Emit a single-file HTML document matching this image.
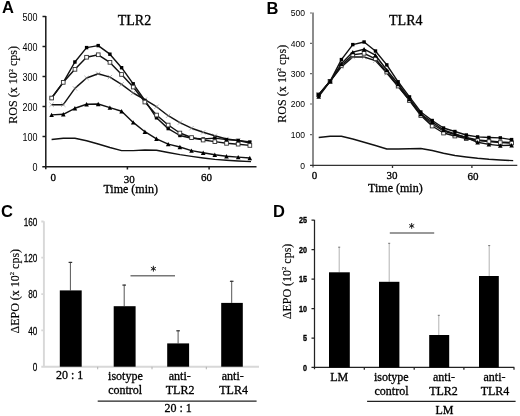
<!DOCTYPE html>
<html><head><meta charset="utf-8"><title>Figure</title>
<style>html,body{margin:0;padding:0;background:#fff;width:520px;height:416px;overflow:hidden}svg{display:block;filter:grayscale(1)}</style>
</head><body>
<svg width="520" height="416" viewBox="0 0 520 416">
<rect width="520" height="416" fill="#fff"/>
<g stroke="#1a1a1a" stroke-width="1.5" fill="none">
<path d="M45.8,16.0V169.3M42.5,16.5H45.8M42.5,46.5H45.8M42.5,76.5H45.8M42.5,106.5H45.8M42.5,136.5H45.8M42.3,166.7H256.5M127.4,166.7V169.5M209.1,166.7V169.5"/>
</g>
<text transform="translate(37.6,20.9) scale(0.9,1)" font-family='"Liberation Sans", sans-serif' font-size="10" text-anchor="end" font-weight="normal">500</text>
<text transform="translate(37.6,50.9) scale(0.9,1)" font-family='"Liberation Sans", sans-serif' font-size="10" text-anchor="end" font-weight="normal">400</text>
<text transform="translate(37.6,80.9) scale(0.9,1)" font-family='"Liberation Sans", sans-serif' font-size="10" text-anchor="end" font-weight="normal">300</text>
<text transform="translate(37.6,110.9) scale(0.9,1)" font-family='"Liberation Sans", sans-serif' font-size="10" text-anchor="end" font-weight="normal">200</text>
<text transform="translate(37.6,140.9) scale(0.9,1)" font-family='"Liberation Sans", sans-serif' font-size="10" text-anchor="end" font-weight="normal">100</text>
<text transform="translate(37.6,170.9) scale(0.9,1)" font-family='"Liberation Sans", sans-serif' font-size="10" text-anchor="end" font-weight="normal">0</text>
<text x="53.3" y="180.5" font-family='"Liberation Serif", serif' font-size="11" text-anchor="middle" font-weight="normal"  stroke="#000" stroke-width="0.3">0</text>
<text x="129.3" y="182.5" font-family='"Liberation Serif", serif' font-size="11" text-anchor="middle" font-weight="normal"  stroke="#000" stroke-width="0.3">30</text>
<text x="206.5" y="180.5" font-family='"Liberation Serif", serif' font-size="11" text-anchor="middle" font-weight="normal"  stroke="#000" stroke-width="0.3">60</text>
<text x="130.7" y="193.0" font-family='"Liberation Serif", serif' font-size="12" text-anchor="middle" font-weight="normal"  stroke="#000" stroke-width="0.3">Time (min)</text>
<text x="134.5" y="24.7" font-family='"Liberation Serif", serif' font-size="14" text-anchor="middle" font-weight="normal"  stroke="#000" stroke-width="0.3">TLR2</text>
<text x="2" y="13.2" font-family='"Liberation Sans", sans-serif' font-size="16.5" text-anchor="start" font-weight="bold" >A</text>
<text transform="translate(17.4,84.9) rotate(-90)" stroke="#000" stroke-width="0.15" font-family='"Liberation Serif", serif' font-size="12.1" text-anchor="middle">ROS (x 10<tspan font-size="6" dy="-4.5">2</tspan><tspan dy="4.5"> cps)</tspan></text>
<polyline points="51.6,139.5 63.3,138.3 74.9,138.3 86.6,140.7 98.2,144.0 109.9,147.5 121.6,150.6 133.2,150.6 144.9,150.0 156.5,150.3 168.2,152.5 179.9,154.6 191.5,156.4 203.2,158.0 214.8,159.4 226.5,160.3 238.2,161.0 251.0,161.6" fill="none" stroke="#111" stroke-width="1.45" stroke-linejoin="round"/>
<polyline points="51.6,114.9 63.3,114.3 74.9,108.3 86.6,104.2 98.2,104.0 109.9,107.6 121.6,111.2 133.2,122.4 144.9,131.7 156.5,138.8 168.2,144.1 179.9,147.0 191.5,150.6 203.2,152.8 214.8,154.8 226.5,156.3 238.2,157.1 249.8,158.0" fill="none" stroke="#111" stroke-width="1.45" stroke-linejoin="round"/>
<polygon points="49.3,117.1 53.9,117.1 51.6,112.7" fill="#000"/>
<polygon points="61.0,116.5 65.6,116.5 63.3,112.1" fill="#000"/>
<polygon points="72.6,110.5 77.2,110.5 74.9,106.1" fill="#000"/>
<polygon points="84.3,106.4 88.9,106.4 86.6,102.0" fill="#000"/>
<polygon points="95.9,106.2 100.5,106.2 98.2,101.8" fill="#000"/>
<polygon points="107.6,109.8 112.2,109.8 109.9,105.4" fill="#000"/>
<polygon points="119.3,113.4 123.9,113.4 121.6,109.0" fill="#000"/>
<polygon points="130.9,124.6 135.5,124.6 133.2,120.2" fill="#000"/>
<polygon points="142.6,133.9 147.2,133.9 144.9,129.5" fill="#000"/>
<polygon points="154.2,141.0 158.8,141.0 156.5,136.6" fill="#000"/>
<polygon points="165.9,146.3 170.5,146.3 168.2,141.9" fill="#000"/>
<polygon points="177.6,149.2 182.2,149.2 179.9,144.8" fill="#000"/>
<polygon points="189.2,152.8 193.8,152.8 191.5,148.4" fill="#000"/>
<polygon points="200.9,155.0 205.5,155.0 203.2,150.6" fill="#000"/>
<polygon points="212.5,157.0 217.1,157.0 214.8,152.6" fill="#000"/>
<polygon points="224.2,158.5 228.8,158.5 226.5,154.1" fill="#000"/>
<polygon points="235.9,159.3 240.5,159.3 238.2,154.9" fill="#000"/>
<polygon points="247.5,160.2 252.1,160.2 249.8,155.8" fill="#000"/>
<polyline points="51.6,104.7 63.3,104.7 74.9,88.4 86.6,78.0 98.2,73.7 109.9,77.1 121.6,84.3 133.2,93.0 144.9,99.6 156.5,106.7 168.2,115.7 179.9,122.6 191.5,128.2 203.2,132.3 214.8,135.8 226.5,139.0 238.2,140.5 249.8,143.0" fill="none" stroke="#111" stroke-width="1.45" stroke-linejoin="round"/>
<path d="M49.4,102.5L53.8,106.9M53.8,102.5L49.4,106.9" stroke="#888" stroke-width="0.6"/>
<path d="M61.1,102.5L65.5,106.9M65.5,102.5L61.1,106.9" stroke="#888" stroke-width="0.6"/>
<path d="M72.7,86.2L77.1,90.6M77.1,86.2L72.7,90.6" stroke="#888" stroke-width="0.6"/>
<path d="M84.4,75.8L88.8,80.2M88.8,75.8L84.4,80.2" stroke="#888" stroke-width="0.6"/>
<path d="M96.0,71.5L100.4,75.9M100.4,71.5L96.0,75.9" stroke="#888" stroke-width="0.6"/>
<path d="M107.7,74.9L112.1,79.3M112.1,74.9L107.7,79.3" stroke="#888" stroke-width="0.6"/>
<path d="M119.4,82.1L123.8,86.5M123.8,82.1L119.4,86.5" stroke="#888" stroke-width="0.6"/>
<path d="M131.0,90.8L135.4,95.2M135.4,90.8L131.0,95.2" stroke="#888" stroke-width="0.6"/>
<path d="M142.7,97.4L147.1,101.8M147.1,97.4L142.7,101.8" stroke="#888" stroke-width="0.6"/>
<path d="M154.3,104.5L158.7,108.9M158.7,104.5L154.3,108.9" stroke="#888" stroke-width="0.6"/>
<path d="M166.0,113.5L170.4,117.9M170.4,113.5L166.0,117.9" stroke="#888" stroke-width="0.6"/>
<path d="M177.7,120.4L182.1,124.8M182.1,120.4L177.7,124.8" stroke="#888" stroke-width="0.6"/>
<path d="M189.3,126.0L193.7,130.4M193.7,126.0L189.3,130.4" stroke="#888" stroke-width="0.6"/>
<path d="M201.0,130.1L205.4,134.5M205.4,130.1L201.0,134.5" stroke="#888" stroke-width="0.6"/>
<path d="M212.6,133.6L217.0,138.0M217.0,133.6L212.6,138.0" stroke="#888" stroke-width="0.6"/>
<path d="M224.3,136.8L228.7,141.2M228.7,136.8L224.3,141.2" stroke="#888" stroke-width="0.6"/>
<path d="M236.0,138.3L240.4,142.7M240.4,138.3L236.0,142.7" stroke="#888" stroke-width="0.6"/>
<path d="M247.6,140.8L252.0,145.2M252.0,140.8L247.6,145.2" stroke="#888" stroke-width="0.6"/>
<polyline points="51.6,98.0 63.3,82.4 74.9,62.0 86.6,47.6 98.2,45.6 109.9,54.2 121.6,67.7 133.2,83.8 144.9,100.5 156.5,117.8 168.2,128.6 179.9,135.5 191.5,138.2 203.2,139.0 214.8,138.1 226.5,139.6 238.2,140.4 249.8,142.0" fill="none" stroke="#111" stroke-width="1.45" stroke-linejoin="round"/>
<rect x="49.9" y="96.3" width="3.4" height="3.4" fill="#000"/>
<rect x="61.6" y="80.7" width="3.4" height="3.4" fill="#000"/>
<rect x="73.2" y="60.3" width="3.4" height="3.4" fill="#000"/>
<rect x="84.9" y="45.9" width="3.4" height="3.4" fill="#000"/>
<rect x="96.5" y="43.9" width="3.4" height="3.4" fill="#000"/>
<rect x="108.2" y="52.5" width="3.4" height="3.4" fill="#000"/>
<rect x="119.9" y="66.0" width="3.4" height="3.4" fill="#000"/>
<rect x="131.5" y="82.1" width="3.4" height="3.4" fill="#000"/>
<rect x="143.2" y="98.8" width="3.4" height="3.4" fill="#000"/>
<rect x="154.8" y="116.1" width="3.4" height="3.4" fill="#000"/>
<rect x="166.5" y="126.9" width="3.4" height="3.4" fill="#000"/>
<rect x="178.2" y="133.8" width="3.4" height="3.4" fill="#000"/>
<rect x="189.8" y="136.5" width="3.4" height="3.4" fill="#000"/>
<rect x="201.5" y="137.3" width="3.4" height="3.4" fill="#000"/>
<rect x="213.1" y="136.4" width="3.4" height="3.4" fill="#000"/>
<rect x="224.8" y="137.9" width="3.4" height="3.4" fill="#000"/>
<rect x="236.5" y="138.7" width="3.4" height="3.4" fill="#000"/>
<rect x="248.1" y="140.3" width="3.4" height="3.4" fill="#000"/>
<polyline points="51.6,98.0 63.3,82.3 74.9,69.3 86.6,57.2 98.2,54.8 109.9,62.4 121.6,74.4 133.2,87.0 144.9,102.0 156.5,115.0 168.2,125.0 179.9,133.0 191.5,137.5 203.2,140.0 214.8,141.6 226.5,143.3 238.2,144.2 249.8,145.4" fill="none" stroke="#111" stroke-width="1.45" stroke-linejoin="round"/>
<rect x="49.8" y="96.2" width="3.7" height="3.7" fill="#fff" stroke="#333" stroke-width="0.9"/>
<rect x="61.4" y="80.5" width="3.7" height="3.7" fill="#fff" stroke="#333" stroke-width="0.9"/>
<rect x="73.1" y="67.5" width="3.7" height="3.7" fill="#fff" stroke="#333" stroke-width="0.9"/>
<rect x="84.7" y="55.4" width="3.7" height="3.7" fill="#fff" stroke="#333" stroke-width="0.9"/>
<rect x="96.4" y="52.9" width="3.7" height="3.7" fill="#fff" stroke="#333" stroke-width="0.9"/>
<rect x="108.1" y="60.5" width="3.7" height="3.7" fill="#fff" stroke="#333" stroke-width="0.9"/>
<rect x="119.7" y="72.6" width="3.7" height="3.7" fill="#fff" stroke="#333" stroke-width="0.9"/>
<rect x="131.4" y="85.2" width="3.7" height="3.7" fill="#fff" stroke="#333" stroke-width="0.9"/>
<rect x="143.0" y="100.2" width="3.7" height="3.7" fill="#fff" stroke="#333" stroke-width="0.9"/>
<rect x="154.7" y="113.2" width="3.7" height="3.7" fill="#fff" stroke="#333" stroke-width="0.9"/>
<rect x="166.3" y="123.2" width="3.7" height="3.7" fill="#fff" stroke="#333" stroke-width="0.9"/>
<rect x="178.0" y="131.2" width="3.7" height="3.7" fill="#fff" stroke="#333" stroke-width="0.9"/>
<rect x="189.7" y="135.7" width="3.7" height="3.7" fill="#fff" stroke="#333" stroke-width="0.9"/>
<rect x="201.3" y="138.2" width="3.7" height="3.7" fill="#fff" stroke="#333" stroke-width="0.9"/>
<rect x="213.0" y="139.8" width="3.7" height="3.7" fill="#fff" stroke="#333" stroke-width="0.9"/>
<rect x="224.7" y="141.5" width="3.7" height="3.7" fill="#fff" stroke="#333" stroke-width="0.9"/>
<rect x="236.3" y="142.3" width="3.7" height="3.7" fill="#fff" stroke="#333" stroke-width="0.9"/>
<rect x="248.0" y="143.6" width="3.7" height="3.7" fill="#fff" stroke="#333" stroke-width="0.9"/>
<path d="M313.0,12.6V167.5" stroke="#8c8c8c" stroke-width="2" fill="none"/>
<g stroke="#6a6a6a" stroke-width="1.2" fill="none">
<path d="M310.0,13H312M310.0,43.4H312M310.0,73.7H312M310.0,104H312M310.0,134.7H312"/>
</g>
<g stroke="#333" stroke-width="1.3" fill="none">
<path d="M310.0,165.3H517.3M392.5,165.3V168M471.9,165.3V168"/>
</g>
<text transform="translate(304.9,16.4) scale(0.93,1)" font-family='"Liberation Sans", sans-serif' font-size="9.2" text-anchor="end" font-weight="normal">500</text>
<text transform="translate(304.9,46.8) scale(0.93,1)" font-family='"Liberation Sans", sans-serif' font-size="9.2" text-anchor="end" font-weight="normal">400</text>
<text transform="translate(304.9,77.10000000000001) scale(0.93,1)" font-family='"Liberation Sans", sans-serif' font-size="9.2" text-anchor="end" font-weight="normal">300</text>
<text transform="translate(304.9,107.4) scale(0.93,1)" font-family='"Liberation Sans", sans-serif' font-size="9.2" text-anchor="end" font-weight="normal">200</text>
<text transform="translate(304.9,138.1) scale(0.93,1)" font-family='"Liberation Sans", sans-serif' font-size="9.2" text-anchor="end" font-weight="normal">100</text>
<text transform="translate(304.9,168.6) scale(0.93,1)" font-family='"Liberation Sans", sans-serif' font-size="9.2" text-anchor="end" font-weight="normal">0</text>
<text x="314.5" y="178.6" font-family='"Liberation Serif", serif' font-size="11" text-anchor="middle" font-weight="normal"  stroke="#000" stroke-width="0.3">0</text>
<text x="392.0" y="178.8" font-family='"Liberation Serif", serif' font-size="11" text-anchor="middle" font-weight="normal"  stroke="#000" stroke-width="0.3">30</text>
<text x="473.1" y="180.1" font-family='"Liberation Serif", serif' font-size="11" text-anchor="middle" font-weight="normal"  stroke="#000" stroke-width="0.3">60</text>
<text x="395.4" y="191.7" font-family='"Liberation Serif", serif' font-size="12" text-anchor="middle" font-weight="normal"  stroke="#000" stroke-width="0.3">Time (min)</text>
<text x="405.8" y="25.3" font-family='"Liberation Serif", serif' font-size="14" text-anchor="middle" font-weight="normal"  stroke="#000" stroke-width="0.3">TLR4</text>
<text x="266.5" y="13.5" font-family='"Liberation Sans", sans-serif' font-size="16.5" text-anchor="start" font-weight="bold" >B</text>
<text transform="translate(285.5,83.8) rotate(-90)" stroke="#000" stroke-width="0.15" font-family='"Liberation Serif", serif' font-size="12.1" text-anchor="middle">ROS (x 10<tspan font-size="6" dy="-4.5">2</tspan><tspan dy="4.5"> cps)</tspan></text>
<polyline points="318.7,137.5 330.1,136.2 341.4,136.2 352.8,139.0 364.1,142.2 375.4,145.5 386.8,149.0 398.1,149.0 409.5,148.8 420.8,148.5 432.2,150.5 443.5,153.3 454.9,155.5 466.2,157.0 477.6,158.3 488.9,159.3 500.3,160.0 513.2,160.6" fill="none" stroke="#111" stroke-width="1.45" stroke-linejoin="round"/>
<polyline points="318.7,94.8 330.1,81.3 341.4,66.9 352.8,57.0 364.1,57.0 375.4,60.6 386.8,73.0 398.1,86.5 409.5,100.0 420.8,114.5 432.2,124.0 443.5,131.0 454.9,134.5 466.2,137.5 477.6,140.0 488.9,141.0 500.3,142.0 511.6,142.5" fill="none" stroke="#111" stroke-width="1.45" stroke-linejoin="round"/>
<path d="M316.5,92.6L320.9,97.0M320.9,92.6L316.5,97.0" stroke="#888" stroke-width="0.6"/>
<path d="M327.9,79.1L332.2,83.5M332.2,79.1L327.9,83.5" stroke="#888" stroke-width="0.6"/>
<path d="M339.2,64.7L343.6,69.1M343.6,64.7L339.2,69.1" stroke="#888" stroke-width="0.6"/>
<path d="M350.6,54.8L354.9,59.2M354.9,54.8L350.6,59.2" stroke="#888" stroke-width="0.6"/>
<path d="M361.9,54.8L366.3,59.2M366.3,54.8L361.9,59.2" stroke="#888" stroke-width="0.6"/>
<path d="M373.2,58.4L377.6,62.8M377.6,58.4L373.2,62.8" stroke="#888" stroke-width="0.6"/>
<path d="M384.6,70.8L389.0,75.2M389.0,70.8L384.6,75.2" stroke="#888" stroke-width="0.6"/>
<path d="M395.9,84.3L400.3,88.7M400.3,84.3L395.9,88.7" stroke="#888" stroke-width="0.6"/>
<path d="M407.3,97.8L411.7,102.2M411.7,97.8L407.3,102.2" stroke="#888" stroke-width="0.6"/>
<path d="M418.6,112.3L423.0,116.7M423.0,112.3L418.6,116.7" stroke="#888" stroke-width="0.6"/>
<path d="M430.0,121.8L434.4,126.2M434.4,121.8L430.0,126.2" stroke="#888" stroke-width="0.6"/>
<path d="M441.3,128.8L445.7,133.2M445.7,128.8L441.3,133.2" stroke="#888" stroke-width="0.6"/>
<path d="M452.7,132.3L457.1,136.7M457.1,132.3L452.7,136.7" stroke="#888" stroke-width="0.6"/>
<path d="M464.1,135.3L468.4,139.7M468.4,135.3L464.1,139.7" stroke="#888" stroke-width="0.6"/>
<path d="M475.4,137.8L479.8,142.2M479.8,137.8L475.4,142.2" stroke="#888" stroke-width="0.6"/>
<path d="M486.8,138.8L491.1,143.2M491.1,138.8L486.8,143.2" stroke="#888" stroke-width="0.6"/>
<path d="M498.1,139.8L502.5,144.2M502.5,139.8L498.1,144.2" stroke="#888" stroke-width="0.6"/>
<path d="M509.4,140.3L513.9,144.7M513.9,140.3L509.4,144.7" stroke="#888" stroke-width="0.6"/>
<polyline points="318.7,94.8 330.1,81.3 341.4,65.5 352.8,54.8 364.1,53.4 375.4,58.8 386.8,72.1 398.1,86.0 409.5,100.5 420.8,115.5 432.2,126.0 443.5,133.0 454.9,136.0 466.2,138.5 477.6,140.5 488.9,141.5 500.3,142.5 511.6,143.0" fill="none" stroke="#111" stroke-width="1.45" stroke-linejoin="round"/>
<rect x="316.8" y="93.0" width="3.7" height="3.7" fill="#fff" stroke="#333" stroke-width="0.9"/>
<rect x="328.2" y="79.5" width="3.7" height="3.7" fill="#fff" stroke="#333" stroke-width="0.9"/>
<rect x="339.5" y="63.6" width="3.7" height="3.7" fill="#fff" stroke="#333" stroke-width="0.9"/>
<rect x="350.9" y="52.9" width="3.7" height="3.7" fill="#fff" stroke="#333" stroke-width="0.9"/>
<rect x="362.2" y="51.5" width="3.7" height="3.7" fill="#fff" stroke="#333" stroke-width="0.9"/>
<rect x="373.6" y="56.9" width="3.7" height="3.7" fill="#fff" stroke="#333" stroke-width="0.9"/>
<rect x="384.9" y="70.2" width="3.7" height="3.7" fill="#fff" stroke="#333" stroke-width="0.9"/>
<rect x="396.3" y="84.2" width="3.7" height="3.7" fill="#fff" stroke="#333" stroke-width="0.9"/>
<rect x="407.6" y="98.7" width="3.7" height="3.7" fill="#fff" stroke="#333" stroke-width="0.9"/>
<rect x="419.0" y="113.7" width="3.7" height="3.7" fill="#fff" stroke="#333" stroke-width="0.9"/>
<rect x="430.3" y="124.2" width="3.7" height="3.7" fill="#fff" stroke="#333" stroke-width="0.9"/>
<rect x="441.7" y="131.2" width="3.7" height="3.7" fill="#fff" stroke="#333" stroke-width="0.9"/>
<rect x="453.0" y="134.2" width="3.7" height="3.7" fill="#fff" stroke="#333" stroke-width="0.9"/>
<rect x="464.4" y="136.7" width="3.7" height="3.7" fill="#fff" stroke="#333" stroke-width="0.9"/>
<rect x="475.8" y="138.7" width="3.7" height="3.7" fill="#fff" stroke="#333" stroke-width="0.9"/>
<rect x="487.1" y="139.7" width="3.7" height="3.7" fill="#fff" stroke="#333" stroke-width="0.9"/>
<rect x="498.4" y="140.7" width="3.7" height="3.7" fill="#fff" stroke="#333" stroke-width="0.9"/>
<rect x="509.8" y="141.2" width="3.7" height="3.7" fill="#fff" stroke="#333" stroke-width="0.9"/>
<polyline points="318.7,96.5 330.1,81.3 341.4,63.8 352.8,52.1 364.1,49.2 375.4,55.2 386.8,70.0 398.1,84.0 409.5,99.0 420.8,114.0 432.2,122.0 443.5,130.0 454.9,134.0 466.2,137.5 477.6,142.3 488.9,144.4 500.3,145.6 511.6,145.3" fill="none" stroke="#111" stroke-width="1.45" stroke-linejoin="round"/>
<polygon points="316.4,98.7 321.0,98.7 318.7,94.3" fill="#000"/>
<polygon points="327.8,83.5 332.4,83.5 330.1,79.1" fill="#000"/>
<polygon points="339.1,66.0 343.7,66.0 341.4,61.6" fill="#000"/>
<polygon points="350.4,54.3 355.1,54.3 352.8,49.9" fill="#000"/>
<polygon points="361.8,51.4 366.4,51.4 364.1,47.0" fill="#000"/>
<polygon points="373.1,57.4 377.8,57.4 375.4,53.0" fill="#000"/>
<polygon points="384.5,72.2 389.1,72.2 386.8,67.8" fill="#000"/>
<polygon points="395.8,86.2 400.4,86.2 398.1,81.8" fill="#000"/>
<polygon points="407.2,101.2 411.8,101.2 409.5,96.8" fill="#000"/>
<polygon points="418.5,116.2 423.1,116.2 420.8,111.8" fill="#000"/>
<polygon points="429.9,124.2 434.5,124.2 432.2,119.8" fill="#000"/>
<polygon points="441.2,132.2 445.8,132.2 443.5,127.8" fill="#000"/>
<polygon points="452.6,136.2 457.2,136.2 454.9,131.8" fill="#000"/>
<polygon points="463.9,139.7 468.6,139.7 466.2,135.3" fill="#000"/>
<polygon points="475.3,144.5 479.9,144.5 477.6,140.1" fill="#000"/>
<polygon points="486.6,146.6 491.2,146.6 488.9,142.2" fill="#000"/>
<polygon points="498.0,147.8 502.6,147.8 500.3,143.4" fill="#000"/>
<polygon points="509.3,147.5 513.9,147.5 511.6,143.1" fill="#000"/>
<polyline points="318.7,94.8 330.1,81.3 341.4,59.6 352.8,44.6 364.1,42.0 375.4,51.0 386.8,64.9 398.1,81.8 409.5,96.9 420.8,112.0 432.2,120.5 443.5,128.0 454.9,131.5 466.2,135.0 477.6,136.9 488.9,137.5 500.3,137.9 511.6,139.6" fill="none" stroke="#111" stroke-width="1.45" stroke-linejoin="round"/>
<rect x="317.0" y="93.1" width="3.4" height="3.4" fill="#000"/>
<rect x="328.4" y="79.6" width="3.4" height="3.4" fill="#000"/>
<rect x="339.7" y="57.9" width="3.4" height="3.4" fill="#000"/>
<rect x="351.1" y="42.9" width="3.4" height="3.4" fill="#000"/>
<rect x="362.4" y="40.3" width="3.4" height="3.4" fill="#000"/>
<rect x="373.8" y="49.3" width="3.4" height="3.4" fill="#000"/>
<rect x="385.1" y="63.2" width="3.4" height="3.4" fill="#000"/>
<rect x="396.4" y="80.1" width="3.4" height="3.4" fill="#000"/>
<rect x="407.8" y="95.2" width="3.4" height="3.4" fill="#000"/>
<rect x="419.1" y="110.3" width="3.4" height="3.4" fill="#000"/>
<rect x="430.5" y="118.8" width="3.4" height="3.4" fill="#000"/>
<rect x="441.8" y="126.3" width="3.4" height="3.4" fill="#000"/>
<rect x="453.2" y="129.8" width="3.4" height="3.4" fill="#000"/>
<rect x="464.6" y="133.3" width="3.4" height="3.4" fill="#000"/>
<rect x="475.9" y="135.2" width="3.4" height="3.4" fill="#000"/>
<rect x="487.2" y="135.8" width="3.4" height="3.4" fill="#000"/>
<rect x="498.6" y="136.2" width="3.4" height="3.4" fill="#000"/>
<rect x="509.9" y="137.9" width="3.4" height="3.4" fill="#000"/>
<path d="M43.9,221.3V367.6M41.3,221.5H43.6M41.3,257.6H43.6M41.3,294.1H43.6M41.3,330.4H43.6M41.3,366.8H259" stroke="#d8d8d8" stroke-width="1.9" fill="none"/>
<path d="M97.7,366.8V369.3M152,366.8V369.3M206.3,366.8V369.3" stroke="#b0b0b0" stroke-width="1" fill="none"/>
<text transform="translate(37.3,225.7) scale(0.82,1)" font-family='"Liberation Sans", sans-serif' font-size="10" text-anchor="end" font-weight="normal" stroke="#000" stroke-width="0.25">160</text>
<text transform="translate(37.3,261.8) scale(0.82,1)" font-family='"Liberation Sans", sans-serif' font-size="10" text-anchor="end" font-weight="normal" stroke="#000" stroke-width="0.25">120</text>
<text transform="translate(37.3,298.3) scale(0.82,1)" font-family='"Liberation Sans", sans-serif' font-size="10" text-anchor="end" font-weight="normal" stroke="#000" stroke-width="0.25">80</text>
<text transform="translate(37.3,334.59999999999997) scale(0.82,1)" font-family='"Liberation Sans", sans-serif' font-size="10" text-anchor="end" font-weight="normal" stroke="#000" stroke-width="0.25">40</text>
<text transform="translate(37.3,370.9) scale(0.82,1)" font-family='"Liberation Sans", sans-serif' font-size="10" text-anchor="end" font-weight="normal" stroke="#000" stroke-width="0.25">0</text>
<line x1="70.4" y1="261.9" x2="70.4" y2="290.4" stroke="#555" stroke-width="1"/>
<line x1="68.60000000000001" y1="262.4" x2="72.2" y2="262.4" stroke="#333" stroke-width="1.2"/>
<rect x="59.8" y="290.4" width="21.9" height="76.3" fill="#000"/>
<line x1="124.2" y1="284.6" x2="124.2" y2="306.2" stroke="#555" stroke-width="1"/>
<line x1="122.4" y1="285.1" x2="126.0" y2="285.1" stroke="#333" stroke-width="1.2"/>
<rect x="113.7" y="306.2" width="21.9" height="60.5" fill="#000"/>
<line x1="178.1" y1="330.3" x2="178.1" y2="343.4" stroke="#555" stroke-width="1"/>
<line x1="176.29999999999998" y1="330.8" x2="179.9" y2="330.8" stroke="#333" stroke-width="1.2"/>
<rect x="167.2" y="343.4" width="21.9" height="23.3" fill="#000"/>
<line x1="231.7" y1="280.8" x2="231.7" y2="302.9" stroke="#555" stroke-width="1"/>
<line x1="229.89999999999998" y1="281.3" x2="233.5" y2="281.3" stroke="#333" stroke-width="1.2"/>
<rect x="221.2" y="302.9" width="21.6" height="63.8" fill="#000"/>
<line x1="130.5" y1="275.8" x2="175" y2="275.8" stroke="#777" stroke-width="1.5"/>
<path d="M153.40,266.20L153.40,271.20M151.23,267.45L155.57,269.95M155.57,267.45L151.23,269.95" stroke="#222" stroke-width="1.0" stroke-linecap="round" fill="none"/>
<circle cx="153.4" cy="268.7" r="1.0" fill="#222"/>
<text x="69.6" y="379" font-family='"Liberation Serif", serif' font-size="12" text-anchor="middle" font-weight="normal"  stroke="#000" stroke-width="0.3">20 : 1</text>
<text x="125.4" y="379.5" font-family='"Liberation Serif", serif' font-size="12" text-anchor="middle" font-weight="normal"  stroke="#000" stroke-width="0.3">isotype</text>
<text x="125.2" y="394.2" font-family='"Liberation Serif", serif' font-size="12" text-anchor="middle" font-weight="normal"  stroke="#000" stroke-width="0.3">control</text>
<text x="179.8" y="379.5" font-family='"Liberation Serif", serif' font-size="12" text-anchor="middle" font-weight="normal"  stroke="#000" stroke-width="0.3">anti-</text>
<text x="180.1" y="394.2" font-family='"Liberation Serif", serif' font-size="12" text-anchor="middle" font-weight="normal"  stroke="#000" stroke-width="0.3">TLR2</text>
<text x="232.8" y="379.5" font-family='"Liberation Serif", serif' font-size="12" text-anchor="middle" font-weight="normal"  stroke="#000" stroke-width="0.3">anti-</text>
<text x="233.6" y="394.2" font-family='"Liberation Serif", serif' font-size="12" text-anchor="middle" font-weight="normal"  stroke="#000" stroke-width="0.3">TLR4</text>
<line x1="97.7" y1="401.2" x2="256.6" y2="401.2" stroke="#222" stroke-width="1.3"/>
<text x="178.2" y="412" font-family='"Liberation Serif", serif' font-size="12" text-anchor="middle" font-weight="normal"  stroke="#000" stroke-width="0.3">20 : 1</text>
<text x="1" y="217.2" font-family='"Liberation Sans", sans-serif' font-size="16.5" text-anchor="start" font-weight="bold" >C</text>
<text transform="translate(19.0,291.2) rotate(-90)" stroke="#000" stroke-width="0.15" font-family='"Liberation Serif", serif' font-size="12" text-anchor="middle">ΔEPO (x 10<tspan font-size="6.5" dy="-5">2</tspan><tspan dy="5"> cps)</tspan></text>
<path d="M314.5,219.8V369.3M311.5,220H314.3M311.5,249.5H314.3M311.5,279H314.3M311.5,308.5H314.3M311.5,338H314.3M311.5,367.3H514.3M364.3,367.3V369.8M414.2,367.3V369.8M463.9,367.3V369.8M514,367.3V369.8" stroke="#222" stroke-width="1.25" fill="none"/>
<text transform="translate(307.0,223.2) scale(0.8,1)" font-family='"Liberation Sans", sans-serif' font-size="9" text-anchor="end" font-weight="bold" stroke="#000" stroke-width="0.35">25</text>
<text transform="translate(307.0,252.7) scale(0.8,1)" font-family='"Liberation Sans", sans-serif' font-size="9" text-anchor="end" font-weight="bold" stroke="#000" stroke-width="0.35">20</text>
<text transform="translate(307.0,282.2) scale(0.8,1)" font-family='"Liberation Sans", sans-serif' font-size="9" text-anchor="end" font-weight="bold" stroke="#000" stroke-width="0.35">15</text>
<text transform="translate(307.0,311.7) scale(0.8,1)" font-family='"Liberation Sans", sans-serif' font-size="9" text-anchor="end" font-weight="bold" stroke="#000" stroke-width="0.35">10</text>
<text transform="translate(307.0,341.2) scale(0.8,1)" font-family='"Liberation Sans", sans-serif' font-size="9" text-anchor="end" font-weight="bold" stroke="#000" stroke-width="0.35">5</text>
<text transform="translate(307.0,370.7) scale(0.8,1)" font-family='"Liberation Sans", sans-serif' font-size="9" text-anchor="end" font-weight="bold" stroke="#000" stroke-width="0.35">0</text>
<line x1="339.2" y1="246.9" x2="339.2" y2="272.3" stroke="#aaa" stroke-width="0.9"/>
<line x1="338.2" y1="247.20000000000002" x2="340.2" y2="247.20000000000002" stroke="#777" stroke-width="1"/>
<rect x="329" y="272.3" width="20.8" height="95.2" fill="#000"/>
<line x1="389.2" y1="243" x2="389.2" y2="281.8" stroke="#aaa" stroke-width="0.9"/>
<line x1="388.2" y1="243.3" x2="390.2" y2="243.3" stroke="#777" stroke-width="1"/>
<rect x="379" y="281.8" width="20.4" height="85.7" fill="#000"/>
<line x1="438.8" y1="315" x2="438.8" y2="335" stroke="#aaa" stroke-width="0.9"/>
<line x1="437.8" y1="315.3" x2="439.8" y2="315.3" stroke="#777" stroke-width="1"/>
<rect x="429.2" y="335" width="20.0" height="32.5" fill="#000"/>
<line x1="489.2" y1="245.3" x2="489.2" y2="276" stroke="#aaa" stroke-width="0.9"/>
<line x1="488.2" y1="245.60000000000002" x2="490.2" y2="245.60000000000002" stroke="#777" stroke-width="1"/>
<rect x="479" y="276" width="19.8" height="91.5" fill="#000"/>
<line x1="389.8" y1="233" x2="434.2" y2="233" stroke="#777" stroke-width="1.6"/>
<path d="M411.70,223.40L411.70,228.40M409.53,224.65L413.87,227.15M413.87,224.65L409.53,227.15" stroke="#222" stroke-width="1.0" stroke-linecap="round" fill="none"/>
<circle cx="411.7" cy="225.9" r="1.0" fill="#222"/>
<text x="339.2" y="381.2" font-family='"Liberation Serif", serif' font-size="12" text-anchor="middle" font-weight="normal"  stroke="#000" stroke-width="0.3">LM</text>
<text x="391.3" y="380.5" font-family='"Liberation Serif", serif' font-size="12" text-anchor="middle" font-weight="normal"  stroke="#000" stroke-width="0.3">isotype</text>
<text x="391.5" y="395.0" font-family='"Liberation Serif", serif' font-size="12" text-anchor="middle" font-weight="normal"  stroke="#000" stroke-width="0.3">control</text>
<text x="444.0" y="380.8" font-family='"Liberation Serif", serif' font-size="12" text-anchor="middle" font-weight="normal"  stroke="#000" stroke-width="0.3">anti-</text>
<text x="443.5" y="395.0" font-family='"Liberation Serif", serif' font-size="12" text-anchor="middle" font-weight="normal"  stroke="#000" stroke-width="0.3">TLR2</text>
<text x="494.5" y="380.8" font-family='"Liberation Serif", serif' font-size="12" text-anchor="middle" font-weight="normal"  stroke="#000" stroke-width="0.3">anti-</text>
<text x="495.0" y="395.0" font-family='"Liberation Serif", serif' font-size="12" text-anchor="middle" font-weight="normal"  stroke="#000" stroke-width="0.3">TLR4</text>
<line x1="367.1" y1="401.3" x2="515.6" y2="401.3" stroke="#222" stroke-width="1.3"/>
<text x="444.5" y="414.2" font-family='"Liberation Serif", serif' font-size="12" text-anchor="middle" font-weight="normal"  stroke="#000" stroke-width="0.3">LM</text>
<text x="273" y="216.9" font-family='"Liberation Sans", sans-serif' font-size="16.5" text-anchor="start" font-weight="bold" >D</text>
<text transform="translate(290.5,281.5) rotate(-90)" stroke="#000" stroke-width="0.15" font-family='"Liberation Serif", serif' font-size="12" text-anchor="middle">ΔEPO (10<tspan font-size="6.5" dy="-5">2</tspan><tspan dy="5"> cps)</tspan></text>
</svg>
</body></html>
